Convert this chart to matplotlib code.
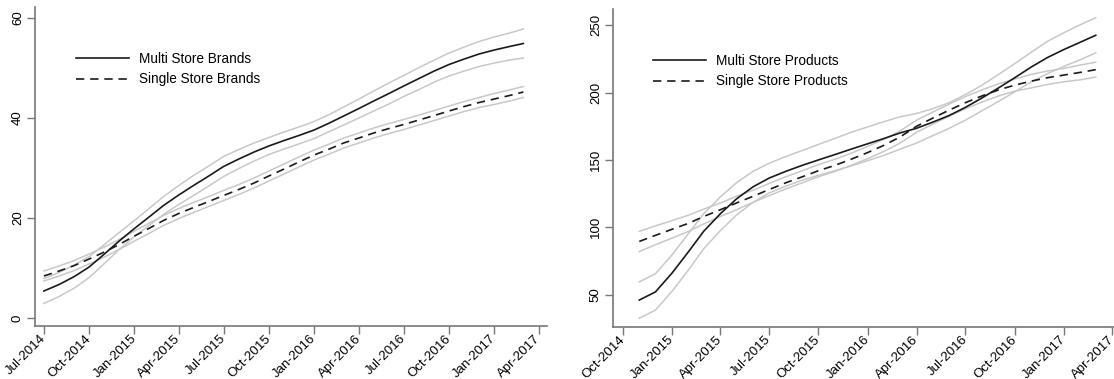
import matplotlib
matplotlib.use('Agg')
import matplotlib.pyplot as plt
import matplotlib.dates as mdates
import numpy as np
import pandas as pd

plt.rcParams['font.family'] = ['Liberation Sans', 'DejaVu Sans']

# ---- left panel: brands, monthly Jul-2014 .. Mar-2017 ----
brand_months = pd.date_range('2014-07-01', '2017-03-01', freq='MS')
multi_brands = [5.4, 6.7, 8.3, 10.2, 12.8, 15.4, 17.9, 20.3, 22.5, 24.6, 26.5, 28.4,
                30.3, 31.8, 33.2, 34.4, 35.5, 36.5, 37.6, 39.0, 40.4, 41.9, 43.4, 44.9,
                46.4, 47.9, 49.4, 50.7, 51.8, 52.8, 53.6, 54.3, 54.9]
multi_brands_ci = [2.5, 2.4, 2.3, 2.1, 1.9, 1.7, 1.6, 1.7, 1.8, 1.9, 2.0, 2.0,
                   2.0, 1.9, 1.8, 1.7, 1.7, 1.7, 1.7, 1.7, 1.8, 1.9, 2.0, 2.1,
                   2.1, 2.2, 2.2, 2.3, 2.4, 2.5, 2.6, 2.7, 2.9]
single_brands = [8.4, 9.4, 10.5, 11.8, 13.2, 14.7, 16.4, 18.0, 19.5, 20.9, 22.1, 23.3,
                 24.5, 25.7, 27.0, 28.4, 29.8, 31.2, 32.6, 33.8, 35.0, 36.0, 37.0, 37.9,
                 38.7, 39.6, 40.5, 41.4, 42.3, 43.1, 43.8, 44.5, 45.2]
single_brands_ci = [1.0, 1.0, 1.0, 1.0, 1.0, 1.0, 1.0, 1.0, 1.0, 1.0, 1.0, 1.0,
                    1.0, 1.0, 1.0, 1.0, 1.0, 1.0, 1.0, 1.0, 1.0, 1.0, 1.0, 1.0,
                    1.0, 1.0, 1.0, 1.0, 1.0, 1.0, 1.1, 1.1, 1.1]
brand_ticks = pd.date_range('2014-07-01', '2017-04-01', freq='3MS')

# ---- right panel: products, monthly Nov-2014 .. Mar-2017 ----
product_months = pd.date_range('2014-11-01', '2017-03-01', freq='MS')
multi_products = [46, 52, 66, 82, 97, 110, 121, 130, 136.5, 141.5, 146, 150,
                  154, 158, 162, 166, 170, 173.5, 178, 183, 189, 196, 203.5, 211,
                  219, 226, 232, 237.5, 242.5]
multi_products_ci = [13.5, 13.5, 13.5, 13.5, 13.0, 12.5, 12.0, 11.5, 11.0, 11.0, 11.0, 11.5,
                     12.0, 12.5, 12.5, 12.5, 12.0, 11.0, 10.0, 9.5, 9.5, 9.5, 10.0, 10.5,
                     11.0, 12.0, 12.5, 13.0, 13.0]
single_products = [89.5, 94, 98.5, 103, 108, 113, 118, 123, 128, 133, 137.5, 142,
                   146, 150.5, 155.5, 161, 167, 175, 181, 187, 192.5, 197.5, 202, 205.5,
                   208.5, 211, 213, 215, 217]
single_products_ci = [7.5, 7.0, 6.5, 6.0, 5.5, 5.0, 5.0, 4.5, 4.5, 4.5, 4.5, 4.5,
                      4.5, 4.5, 4.5, 4.5, 4.5, 4.5, 4.5, 4.5, 4.5, 4.5, 4.5, 4.5,
                      5.0, 5.0, 5.0, 5.5, 5.5]
product_ticks = pd.date_range('2014-10-01', '2017-04-01', freq='3MS')

GRAY = '#c8c8c8'
AXIS = '#777777'


def draw_panel(ax, months, multi, multi_ci, single, single_ci, labels, ticks, ylim, yticks):
    multi = np.array(multi)
    single = np.array(single)
    for mean, ci in ((multi, np.array(multi_ci)), (single, np.array(single_ci))):
        ax.plot(months, mean + ci, color=GRAY, lw=1.1)
        ax.plot(months, mean - ci, color=GRAY, lw=1.1)
    ax.plot(months, multi, color='#1a1a1a', lw=1.2, label=labels[0])
    ax.plot(months, single, color='#1a1a1a', lw=1.2, dashes=(5, 3.5), label=labels[1])
    ax.set_ylim(*ylim)
    ax.set_yticks(yticks)
    ax.set_xticks(ticks)
    ax.xaxis.set_major_formatter(mdates.DateFormatter('%b-%Y'))
    for s in ('top', 'right'):
        ax.spines[s].set_visible(False)
    for s in ('left', 'bottom'):
        ax.spines[s].set_color(AXIS)
        ax.spines[s].set_linewidth(1.2)
    ax.tick_params(colors=AXIS, labelcolor='black', length=6, width=1.0,
                   labelsize=9.5, pad=2)
    for lab in ax.get_yticklabels():
        lab.set_rotation(90)
        lab.set_va('center')
    for lab in ax.get_xticklabels():
        lab.set_rotation(45)
        lab.set_ha('right')
        lab.set_va('center')
        lab.set_rotation_mode('anchor')
    leg = ax.legend(loc='upper left', bbox_to_anchor=(0.08, 0.86), frameon=False,
                    handlelength=3.9, handletextpad=0.75, labelspacing=0.5,
                    fontsize=9.8, borderpad=0, borderaxespad=0)
    return leg


fig = plt.figure(figsize=(11.14, 3.79), dpi=100)
ax1 = fig.add_axes([35 / 1114, 53 / 379, 512 / 1114, 319 / 379])
ax2 = fig.add_axes([613 / 1114, 52 / 379, 501 / 1114, 318 / 379])

draw_panel(ax1, brand_months, multi_brands, multi_brands_ci, single_brands, single_brands_ci,
           ['Multi Store Brands', 'Single Store Brands'], brand_ticks,
           (-1.6, 62.2), [0, 20, 40, 60])
ax1.set_xlim(pd.Timestamp('2014-06-13'), pd.Timestamp('2017-04-18'))

draw_panel(ax2, product_months, multi_products, multi_products_ci, single_products,
           single_products_ci, ['Multi Store Products', 'Single Store Products'],
           product_ticks, (26, 262), [50, 100, 150, 200, 250])
ax2.set_xlim(pd.Timestamp('2014-09-13'), pd.Timestamp('2017-04-04'))

fig.savefig('out.png', dpi=100)
